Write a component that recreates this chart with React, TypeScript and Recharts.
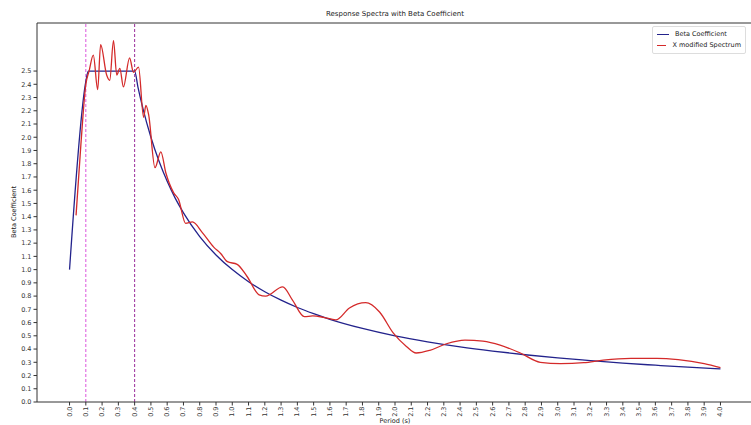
import React from 'react';
import { ComposedChart, Line, XAxis, YAxis, ReferenceLine } from 'recharts';

// Beta coefficient curve (period in s, value)
const betaPeriods = [
  0, 0.1, 0.115, 0.2, 0.3, 0.4, 0.42, 0.45, 0.5, 0.55, 0.6, 0.65, 0.7, 0.8, 0.9, 1.0,
  1.1, 1.2, 1.3, 1.4, 1.5, 1.6, 1.8, 2.0, 2.2, 2.4, 2.6, 2.8, 3.0, 3.2, 3.4, 3.6, 3.8, 4.0,
];
const betaValues = [
  1.0, 2.42, 2.5, 2.5, 2.5, 2.5, 2.381, 2.222, 2.0, 1.818, 1.667, 1.538, 1.429, 1.25, 1.111, 1.0,
  0.909, 0.833, 0.769, 0.714, 0.667, 0.625, 0.556, 0.5, 0.455, 0.417, 0.385, 0.357, 0.333, 0.313,
  0.294, 0.278, 0.263, 0.25,
];

// X modified spectrum (period in s, value)
const spectrumPeriods = [
  0.04, 0.07, 0.1, 0.12, 0.146, 0.173, 0.191, 0.228, 0.247, 0.27, 0.29, 0.309, 0.331, 0.369,
  0.393, 0.424, 0.455, 0.469, 0.486, 0.525, 0.561, 0.592, 0.64, 0.67, 0.713, 0.755, 0.816,
  0.886, 0.93, 0.97, 1.03, 1.09, 1.165, 1.205, 1.31, 1.37, 1.443, 1.494, 1.56, 1.636, 1.72,
  1.82, 1.905, 1.99, 2.07, 2.13, 2.214, 2.316, 2.43, 2.54, 2.646, 2.77, 2.893, 3.017, 3.16,
  3.28, 3.45, 3.61, 3.74, 3.9, 4.0,
];
const spectrumValues = [
  1.41, 1.95, 2.4, 2.5, 2.62, 2.36, 2.7, 2.47, 2.43, 2.73, 2.47, 2.52, 2.38, 2.6,
  2.49, 2.53, 2.15, 2.24, 2.17, 1.77, 1.89, 1.73, 1.58, 1.53, 1.35, 1.36, 1.28,
  1.17, 1.12, 1.06, 1.04, 0.95, 0.81, 0.8, 0.87, 0.77, 0.645, 0.65, 0.64, 0.62, 0.71,
  0.75, 0.68, 0.52, 0.42, 0.37, 0.39, 0.44, 0.468, 0.46, 0.43, 0.37, 0.3, 0.29, 0.297,
  0.317, 0.33, 0.33, 0.32, 0.29, 0.26,
];

const xTicks = [
  0.0, 0.1, 0.2, 0.3, 0.4, 0.5, 0.6, 0.7, 0.8, 0.9, 1.0, 1.1, 1.2, 1.3, 1.4, 1.5, 1.6, 1.7, 1.8, 1.9, 2.0,
  2.1, 2.2, 2.3, 2.4, 2.5, 2.6, 2.7, 2.8, 2.9, 3.0, 3.1, 3.2, 3.3, 3.4, 3.5, 3.6, 3.7, 3.8, 3.9, 4.0,
];
const yTicks = [
  0.0, 0.1, 0.2, 0.3, 0.4, 0.5, 0.6, 0.7, 0.8, 0.9, 1.0, 1.1, 1.2, 1.3, 1.4, 1.5, 1.6, 1.7, 1.8, 1.9,
  2.0, 2.1, 2.2, 2.3, 2.4, 2.5,
];

const betaData = betaPeriods.map((t, i) => ({ period: t, beta: betaValues[i] }));
const spectrumData = spectrumPeriods.map((t, i) => ({ period: t, spectrum: spectrumValues[i] }));

const BLUE = '#23238c';
const RED = '#d42a2a';
const AXIS = '#333';

const XTick = (props: any) => {
  const { x, y, payload } = props;
  return (
    <text
      x={x}
      y={y}
      transform={`rotate(-90 ${x} ${y})`}
      textAnchor="end"
      dominantBaseline="central"
      fontSize={6.5}
      fill={AXIS}
    >
      {Number(payload.value).toFixed(1)}
    </text>
  );
};

const legendItems = [
  { name: 'Beta Coefficient', color: BLUE },
  { name: 'X modified Spectrum', color: RED },
];

export default function App() {
  return (
    <div
      style={{
        position: 'absolute',
        left: 0,
        top: 0,
        width: 751,
        height: 425,
        overflow: 'hidden',
        background: '#fff',
        fontFamily: '"DejaVu Sans", sans-serif',
      }}
    >
      <div
        style={{
          position: 'absolute',
          left: 0,
          top: 10,
          width: 790,
          textAlign: 'center',
          fontSize: 7,
          lineHeight: '8px',
          color: '#222',
        }}
      >
        Response Spectra with Beta Coefficient
      </div>

      <ComposedChart width={760} height={425} margin={{ top: 23, right: 7, left: 0, bottom: 0 }}>
        <XAxis
          dataKey="period"
          type="number"
          domain={[-0.2, 4.2]}
          ticks={xTicks}
          interval={0}
          allowDataOverflow
          height={23}
          tickSize={3.5}
          tickMargin={1}
          stroke={AXIS}
          tick={XTick}
          label={{ value: 'Period (s)', position: 'insideBottom', offset: 2, fontSize: 6.5, fill: '#222' }}
        />
        <YAxis
          type="number"
          domain={[0, 2.863]}
          ticks={yTicks}
          interval={0}
          allowDataOverflow
          width={37}
          tickSize={3.5}
          tickMargin={2}
          stroke={AXIS}
          tick={{ fontSize: 6.5, fill: AXIS }}
          tickFormatter={(v: number) => v.toFixed(1)}
          label={() => (
            <text
              x={14}
              y={212}
              transform="rotate(-90 14 212)"
              textAnchor="middle"
              dominantBaseline="central"
              fontSize={6.5}
              fill="#222"
            >
              Beta Coefficient
            </text>
          )}
        />
        <ReferenceLine y={2.863} stroke={AXIS} strokeWidth={1} />
        <ReferenceLine x={0.1} stroke="#dd55dd" strokeDasharray="3 2" strokeWidth={1} />
        <ReferenceLine x={0.4} stroke="#9b2d9b" strokeDasharray="3 2" strokeWidth={1} />
        <Line
          data={betaData}
          dataKey="beta"
          type="monotone"
          stroke={BLUE}
          strokeWidth={1.3}
          dot={false}
          isAnimationActive={false}
        />
        <Line
          data={spectrumData}
          dataKey="spectrum"
          type="monotone"
          stroke={RED}
          strokeWidth={1.3}
          dot={false}
          isAnimationActive={false}
        />
      </ComposedChart>

      <div
        style={{
          position: 'absolute',
          left: 652,
          top: 26,
          width: 94,
          boxSizing: 'border-box',
          background: '#fff',
          border: '1px solid #ddd',
          borderRadius: 2,
          padding: '2px 4px',
          fontSize: 6.5,
          lineHeight: '11px',
          color: '#222',
        }}
      >
        {legendItems.map((item) => (
          <div key={item.name} style={{ display: 'flex', alignItems: 'center', whiteSpace: 'nowrap' }}>
            <span
              style={{ display: 'inline-block', width: 12, height: 1.5, background: item.color, marginRight: 6 }}
            />
            {item.name}
          </div>
        ))}
      </div>
    </div>
  );
}
